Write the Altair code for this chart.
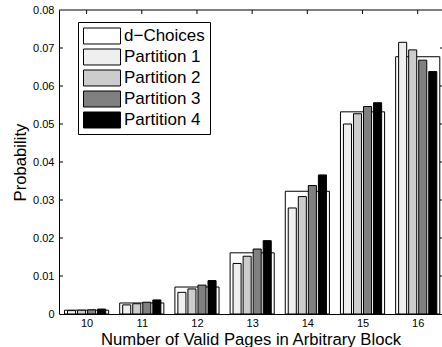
import altair as alt
import pandas as pd

# ---- data ----
categories = [10, 11, 12, 13, 14, 15, 16]
dchoices = [0.0010, 0.0029, 0.0071, 0.0161, 0.0323, 0.0532, 0.0677]
partition1 = [0.0009, 0.0024, 0.0057, 0.0133, 0.0279, 0.0500, 0.0715]
partition2 = [0.0010, 0.0027, 0.0066, 0.0152, 0.0309, 0.0527, 0.0695]
partition3 = [0.0011, 0.0031, 0.0076, 0.0171, 0.0338, 0.0546, 0.0668]
partition4 = [0.0013, 0.0037, 0.0088, 0.0193, 0.0366, 0.0556, 0.0638]
series_names = ["d\u2212Choices", "Partition 1", "Partition 2", "Partition 3", "Partition 4"]
series_colors = ["#ffffff", "#efefef", "#cccccc", "#808080", "#000000"]
y_ticks = [0, 0.01, 0.02, 0.03, 0.04, 0.05, 0.06, 0.07, 0.08]

rows = []
for c, v in zip(categories, dchoices):
    rows.append({"pages": c, "prob": v, "series": series_names[0], "k": -1})
for k, vals in enumerate([partition1, partition2, partition3, partition4]):
    for c, v in zip(categories, vals):
        rows.append({"pages": c, "prob": v, "series": series_names[k + 1], "k": k})
df = pd.DataFrame(rows)

W, H = 383, 304
FONT = "Liberation Sans"

xscale = alt.Scale(domain=[9.5, 16.44], nice=False, zero=False)
yscale = alt.Scale(domain=[0, 0.08], nice=False, zero=False)

color = alt.Color(
    "series:N",
    scale=alt.Scale(domain=series_names, range=series_colors),
    legend=alt.Legend(
        title=None,
        orient="none",
        legendX=19,
        legendY=12,
        symbolType="M-1,-0.432H1V0.432H-1Z",
        symbolSize=1369,
        symbolStrokeColor="black",
        symbolStrokeWidth=1,
        symbolOpacity=1,
        labelFontSize=17,
        labelFont=FONT,
        labelColor="black",
        labelOffset=3,
        clipHeight=18,
        rowPadding=3,
        padding=5,
        strokeColor="black",
        fillColor="white",
        cornerRadius=0,
        labelLimit=0,
    ),
)

x_axis = alt.Axis(
    values=categories,
    format="d",
    labelFontSize=11,
    labelFont=FONT,
    labelColor="black",
    labelPadding=3,
    ticks=False,
    grid=False,
    domainColor="black",
    domainWidth=1,
    title="Number of Valid Pages in Arbitrary Block",
    titleFont=FONT,
    titleFontSize=16.7,
    titleFontWeight="normal",
    titleColor="black",
    titleY=30,
    titleBaseline="alphabetic",
    zindex=1,
)
y_axis = alt.Axis(
    values=y_ticks,
    labelExpr="datum.value == 0 ? '0' : format(datum.value, '.2f')",
    labelFontSize=11,
    labelFont=FONT,
    labelColor="black",
    labelPadding=5,
    ticks=False,
    grid=False,
    domainColor="black",
    domainWidth=1,
    title="Probability",
    titleFont=FONT,
    titleFontSize=16.7,
    titleFontWeight="normal",
    titleColor="black",
    titleAngle=270,
    titleX=-34,
    titleY=H / 2,
    titleAlign="center",
    titleBaseline="alphabetic",
    zindex=1,
)

base = alt.Chart(df)

wide = (
    base.transform_filter("datum.k < 0")
    .transform_calculate(x0="datum.pages - 0.4", x1="datum.pages + 0.4", y0="0")
    .mark_rect(stroke="black", strokeWidth=1)
    .encode(
        x=alt.X("x0:Q", scale=xscale, axis=x_axis),
        x2="x1:Q",
        y=alt.Y("prob:Q", scale=yscale, axis=y_axis),
        y2="y0:Q",
        color=color,
    )
)

narrow = (
    base.transform_filter("datum.k >= 0")
    .transform_calculate(c="datum.pages + (datum.k - 1.5) * 0.182")
    .transform_calculate(x0="datum.c - 0.073", x1="datum.c + 0.073", y0="0")
    .mark_rect(stroke="black", strokeWidth=1)
    .encode(
        x=alt.X("x0:Q", scale=xscale, axis=x_axis),
        x2="x1:Q",
        y=alt.Y("prob:Q", scale=yscale, axis=y_axis),
        y2="y0:Q",
        color=color,
    )
)

ytick_df = pd.DataFrame({"t": y_ticks[1:-1]})
xtick_df = pd.DataFrame({"t": categories})

left_ticks = alt.Chart(ytick_df).mark_rule(color="black", strokeWidth=1).encode(
    y=alt.Y("t:Q", scale=yscale, axis=y_axis), x=alt.value(0), x2=alt.value(4)
)
right_ticks = alt.Chart(ytick_df).mark_rule(color="black", strokeWidth=1).encode(
    y=alt.Y("t:Q", scale=yscale, axis=y_axis), x=alt.value(W - 2), x2=alt.value(W)
)
top_ticks = alt.Chart(xtick_df).mark_rule(color="black", strokeWidth=1).encode(
    x=alt.X("t:Q", scale=xscale, axis=x_axis), y=alt.value(0), y2=alt.value(4)
)
top_line = alt.Chart(pd.DataFrame({"a": [0]})).mark_rule(color="black", strokeWidth=1).encode(
    x=alt.value(0), x2=alt.value(W), y=alt.value(0)
)

chart = (
    alt.layer(wide, narrow, left_ticks, right_ticks, top_ticks, top_line)
    .properties(
        width=W,
        height=H,
        padding={"left": 59, "top": 10, "right": 0, "bottom": 33},
        autosize=alt.AutoSizeParams(type="none"),
        background="white",
    )
    .configure(font=FONT)
    .configure_view(stroke=None)
)

chart.save("out.html", embed_options={"renderer": "svg", "actions": False})
